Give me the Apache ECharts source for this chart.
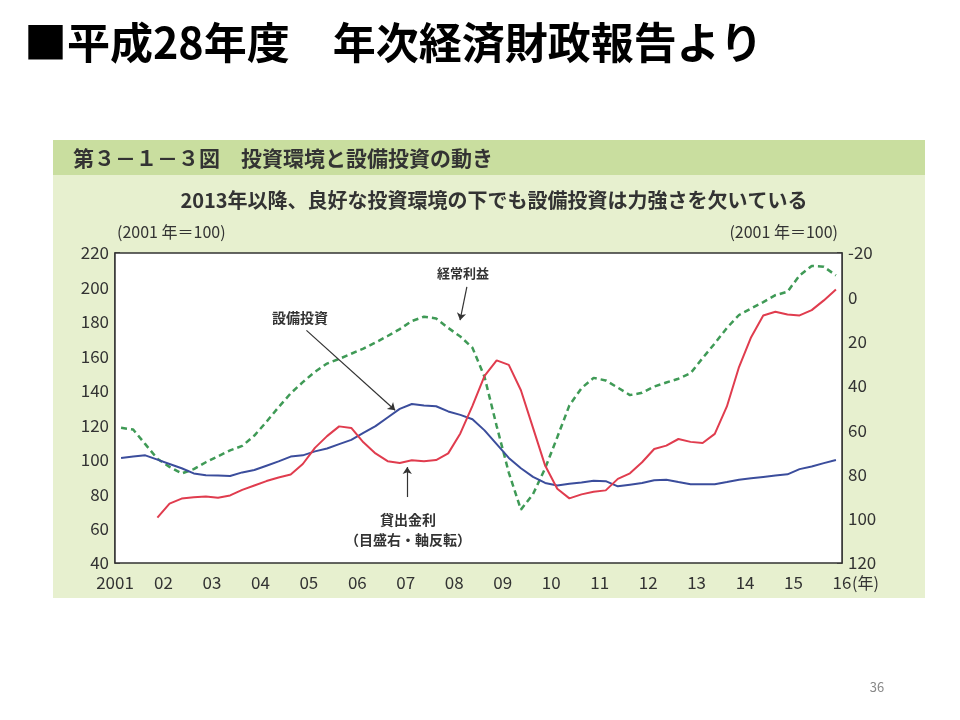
<!DOCTYPE html>
<html>
<head>
<meta charset="utf-8">
<script src="https://cdn.jsdelivr.net/npm/echarts@6/dist/echarts.min.js"></script>
<style>
  html, body { margin: 0; padding: 0; background: #fff; }
  #main { width: 960px; height: 720px; }
</style>
</head>
<body>
<div id="main"></div>
<script>
  // 年・四半期（四半期の中央に点を置く）
  var years = [2001, 2002, 2003, 2004, 2005, 2006, 2007, 2008, 2009, 2010, 2011, 2012, 2013, 2014, 2015];
  var quarterMid = [0.125, 0.375, 0.625, 0.875];

  // 設備投資 (2001年=100, 左目盛)
  var capex = [
    101, 101.8, 102.5, 100,
    97.5, 95, 92, 91,
    90.8, 90.5, 92.6, 94,
    96.5, 99, 101.8, 102.5,
    104.8, 106.5, 109, 111.5,
    115.5, 119.5, 124.5, 129.5,
    132.3, 131.5, 131, 128,
    126, 123.5, 117, 109,
    101, 95, 90, 86.5,
    85, 86, 86.8, 87.8,
    87.5, 84.5, 85.5, 86.5,
    88, 88.4, 87, 85.7,
    85.7, 85.7, 87, 88.4,
    89.2, 90, 90.8, 91.5,
    94.5, 96, 98, 99.8
  ];

  // 経常利益 (2001年=100, 左目盛)
  var profit = [
    118.5, 117.5, 109, 100.5,
    95.8, 92, 94.5, 98.5,
    102, 105.4, 108, 114,
    122, 130.5, 138.5, 145,
    151, 155.8, 158.5, 161.5,
    164.5, 168, 171.8, 175.8,
    180.5, 183, 182, 176.5,
    171.5, 165, 148, 119.5,
    92.5, 71, 80, 95,
    113, 131.5, 141.5, 147.5,
    146, 141.8, 137.5, 138.8,
    142.5, 144.8, 147, 150.2,
    159, 167.5, 176.5, 184,
    187.8, 191.5, 195.5, 197.5,
    207, 212.5, 212, 207
  ];

  // 貸出金利 (2001年=100, 右目盛・軸反転)
  var lendingRate = [
    null, null, null, 99.5,
    93.2, 90.9, 90.3, 90,
    90.5, 89.5, 87, 85,
    83, 81.4, 80, 75.3,
    68, 62.7, 58.3, 59,
    65.5, 70.5, 74, 74.8,
    73.6, 74, 73.5, 70.5,
    61.5, 49, 35.5, 28.5,
    30.5, 42, 59, 76,
    86.5, 90.8, 89, 87.8,
    87.2, 82, 79.5, 74.5,
    68.5, 67, 64, 65.3,
    65.8, 61.7, 49.3, 31.5,
    18, 8.2, 6.5, 7.8,
    8.2, 5.8, 1.4, -3.5
  ];

  var xs = [];
  years.forEach(function (y) {
    quarterMid.forEach(function (q) { xs.push(y + q); });
  });

  function pairs(vals) {
    var out = [];
    vals.forEach(function (v, i) {
      if (v !== null) out.push([xs[i], v]);
    });
    return out;
  }

  var FONT = '"Noto Sans CJK JP", "Noto Sans", sans-serif';
  var ink = '#333';

  var chart = echarts.init(document.getElementById('main'));

  var arrowStyle = { color: ink, width: 1.2, type: 'solid' };

  chart.setOption({
    backgroundColor: '#fff',
    animation: false,
    textStyle: { fontFamily: FONT },
    grid: {
      left: 115, right: 118, top: 253, bottom: 157,
      show: true, backgroundColor: '#fff', borderColor: ink, borderWidth: 1.5,
      z: 2
    },
    xAxis: {
      type: 'value', min: 2001, max: 2016, interval: 1,
      axisLine: { show: false },
      axisTick: { show: false },
      splitLine: { show: false },
      axisLabel: {
        color: ink, fontSize: 17, margin: 11, fontFamily: FONT,
        formatter: function (v) { return v === 2001 ? '2001' : String(v).slice(2); }
      }
    },
    yAxis: [{
      type: 'value', min: 40, max: 220, interval: 20, position: 'left',
      axisLine: { show: true, lineStyle: { color: ink, width: 1.5 } },
      axisTick: { show: true, inside: true, length: 5, lineStyle: { color: ink, width: 1.5 } },
      splitLine: { show: false },
      axisLabel: { color: ink, fontSize: 17, margin: 6, fontFamily: FONT }
    }, {
      type: 'value', min: -20, max: 120, interval: 20, position: 'right', inverse: true,
      axisLine: { show: true, lineStyle: { color: ink, width: 1.5 } },
      axisTick: { show: true, inside: true, length: 5, lineStyle: { color: ink, width: 1.5 } },
      splitLine: { show: false },
      axisLabel: { color: ink, fontSize: 17, margin: 6, fontFamily: FONT }
    }],
    series: [{
      name: '経常利益', type: 'line', yAxisIndex: 0, showSymbol: false,
      data: pairs(profit),
      lineStyle: { color: '#3f9a56', width: 2.5, type: [6, 4] },
      markLine: {
        silent: true, symbol: ['none', 'arrow'], symbolSize: 7,
        lineStyle: arrowStyle, label: { show: false },
        data: [[{ coord: [2008.26, 200.3] }, { coord: [2008.12, 181] }]]
      }
    }, {
      name: '設備投資', type: 'line', yAxisIndex: 0, showSymbol: false,
      data: pairs(capex),
      lineStyle: { color: '#3b4d9c', width: 2 },
      markLine: {
        silent: true, symbol: ['none', 'arrow'], symbolSize: 7,
        lineStyle: arrowStyle, label: { show: false },
        data: [
          [{ coord: [2004.95, 175.1] }, { coord: [2006.78, 128.7] }],
          [{ coord: [2007.03, 78.3] }, { coord: [2007.03, 95.7] }]
        ]
      }
    }, {
      name: '貸出金利', type: 'line', yAxisIndex: 1, showSymbol: false,
      data: pairs(lendingRate),
      lineStyle: { color: '#e03c4e', width: 2 }
    }],
    graphic: [
      // スライドの見出し
      { type: 'text', z: 10, style: { text: '■平成28年度　年次経済財政報告より', x: 24, y: 43,
        font: 'bold 43px ' + FONT, fill: '#000', textVerticalAlign: 'middle' } },
      // 図のパネル
      { type: 'rect', z: -10, shape: { x: 53, y: 140, width: 872, height: 458 },
        style: { fill: '#e7f0cf' } },
      { type: 'rect', z: -9, shape: { x: 53, y: 140, width: 872, height: 35 },
        style: { fill: '#c9de9f' } },
      { type: 'text', z: 10, style: { text: '第３－１－３図　投資環境と設備投資の動き', x: 73, y: 158,
        font: 'bold 21px ' + FONT, fill: ink, textVerticalAlign: 'middle' } },
      { type: 'text', z: 10, style: { text: '2013年以降、良好な投資環境の下でも設備投資は力強さを欠いている', x: 494, y: 200,
        font: 'bold 20px ' + FONT, fill: ink, textAlign: 'center', textVerticalAlign: 'middle' } },
      { type: 'text', z: 10, style: { text: '(2001 年＝100)', x: 117, y: 232,
        font: '16px ' + FONT, fill: ink, textVerticalAlign: 'middle' } },
      { type: 'text', z: 10, style: { text: '(2001 年＝100)', x: 838, y: 232,
        font: '16px ' + FONT, fill: ink, textAlign: 'right', textVerticalAlign: 'middle' } },
      { type: 'text', z: 10, style: { text: '(年)', x: 852, y: 583,
        font: '16px ' + FONT, fill: ink, textVerticalAlign: 'middle' } },
      // 系列の注記
      { type: 'text', z: 10, style: { text: '経常利益', x: 463, y: 273,
        font: 'bold 13px ' + FONT, fill: ink, textAlign: 'center', textVerticalAlign: 'middle' } },
      { type: 'text', z: 10, style: { text: '設備投資', x: 300, y: 318,
        font: 'bold 14px ' + FONT, fill: ink, textAlign: 'center', textVerticalAlign: 'middle' } },
      { type: 'text', z: 10, style: { text: '貸出金利', x: 408, y: 520,
        font: 'bold 14px ' + FONT, fill: ink, textAlign: 'center', textVerticalAlign: 'middle' } },
      { type: 'text', z: 10, style: { text: '（目盛右・軸反転）', x: 408, y: 540,
        font: 'bold 14px ' + FONT, fill: ink, textAlign: 'center', textVerticalAlign: 'middle' } },
      // ページ番号
      { type: 'text', z: 10, style: { text: '36', x: 877, y: 687,
        font: '13px ' + FONT, fill: '#888', textAlign: 'center', textVerticalAlign: 'middle' } }
    ]
  });
</script>
</body>
</html>
